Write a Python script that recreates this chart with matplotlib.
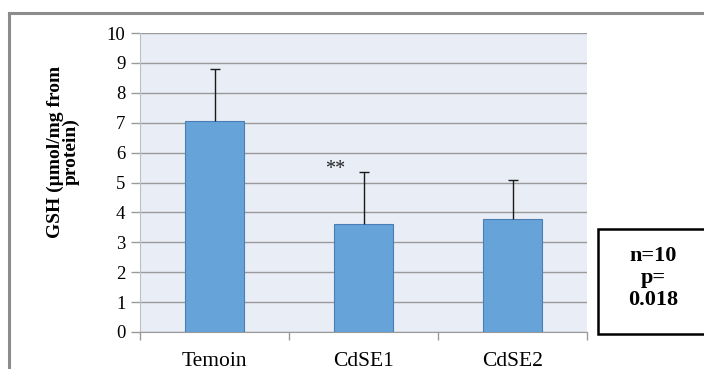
import matplotlib
matplotlib.use("Agg")
import matplotlib.pyplot as plt
from matplotlib.lines import Line2D
from matplotlib.patches import Rectangle

groups = ["Temoin", "CdSE1", "CdSE2"]
gsh_mean = [7.05, 3.61, 3.78]
gsh_err = [1.75, 1.74, 1.32]
yticks = list(range(0, 11))

plt.rcParams["font.family"] = ["Liberation Serif", "DejaVu Serif"]

W, H = 704, 369
fig = plt.figure(figsize=(W / 100, H / 100), dpi=100)
fig.patch.set_facecolor("white")

# plot area in pixels: x 140..587, y 33..332
ax = fig.add_axes([140 / W, (H - 332) / H, 447 / W, 299 / H])
ax.set_facecolor("#E9EEF6")

x = list(range(len(groups)))
ax.bar(x, gsh_mean, width=0.4, color="#65A3D9", edgecolor="#4A7EB5",
       linewidth=0.8, zorder=3)
_, caps, _ = ax.errorbar(x, gsh_mean, yerr=[[0] * len(x), gsh_err], fmt="none",
                         ecolor="#1a1a1a", elinewidth=1.0, capsize=3.6,
                         capthick=1.0, zorder=4)
caps[0].set_visible(False)  # upper error only

ax.text(0.81, 5.28, "**", ha="center", va="baseline", fontsize=14.5, color="#222222")

ax.set_xlim(-0.5, len(groups) - 0.5)
ax.set_ylim(0, 10)
ax.set_yticks(yticks)
ax.set_yticklabels([str(t) for t in yticks], fontsize=13.5)
ax.yaxis.grid(True, color="#9A9A9A", linewidth=1.0, zorder=1)
ax.set_axisbelow(True)

ax.set_xticks(x)
ax.set_xticklabels(groups, fontsize=15.5)
ax.tick_params(axis="x", length=0, pad=14.5)
ax.tick_params(axis="y", length=6.5, color="#9A9A9A", width=1.0, pad=4)
# category separators on the x axis
ax.set_xticks([i - 0.5 for i in range(len(groups) + 1)], minor=True)
ax.tick_params(axis="x", which="minor", length=6, color="#9A9A9A", width=1.0)

for side in ["top", "right"]:
    ax.spines[side].set_visible(False)
ax.spines["left"].set_color("#BFBFBF")
ax.spines["bottom"].set_color("#9A9A9A")

fig.text(63 / W, 1 - 152 / H, "GSH (µmol/mg from\nprotein)", rotation=90,
         ha="center", va="center", multialignment="center",
         fontsize=14, fontweight="bold", linespacing=0.9)

# outer chart frame (partly cut off)
fig.add_artist(Line2D([8.5 / W, 1.0], [1 - 12.5 / H, 1 - 12.5 / H],
                      color="#8C8C8C", linewidth=2.2, transform=fig.transFigure))
fig.add_artist(Line2D([8.5 / W, 8.5 / W], [0, 1 - 12.5 / H],
                      color="#8C8C8C", linewidth=2.2, transform=fig.transFigure))

# statistics box
fig.add_artist(Rectangle((598 / W, (H - 334) / H), 110 / W, 105 / H,
                         facecolor="white", edgecolor="black", linewidth=1.8,
                         transform=fig.transFigure))
fig.text(653 / W, 1 - 278 / H, "n=10\np=\n0.018", ha="center", va="center",
         fontsize=16, fontweight="bold", linespacing=1.15)

fig.savefig("out.png", dpi=100, facecolor="white")
